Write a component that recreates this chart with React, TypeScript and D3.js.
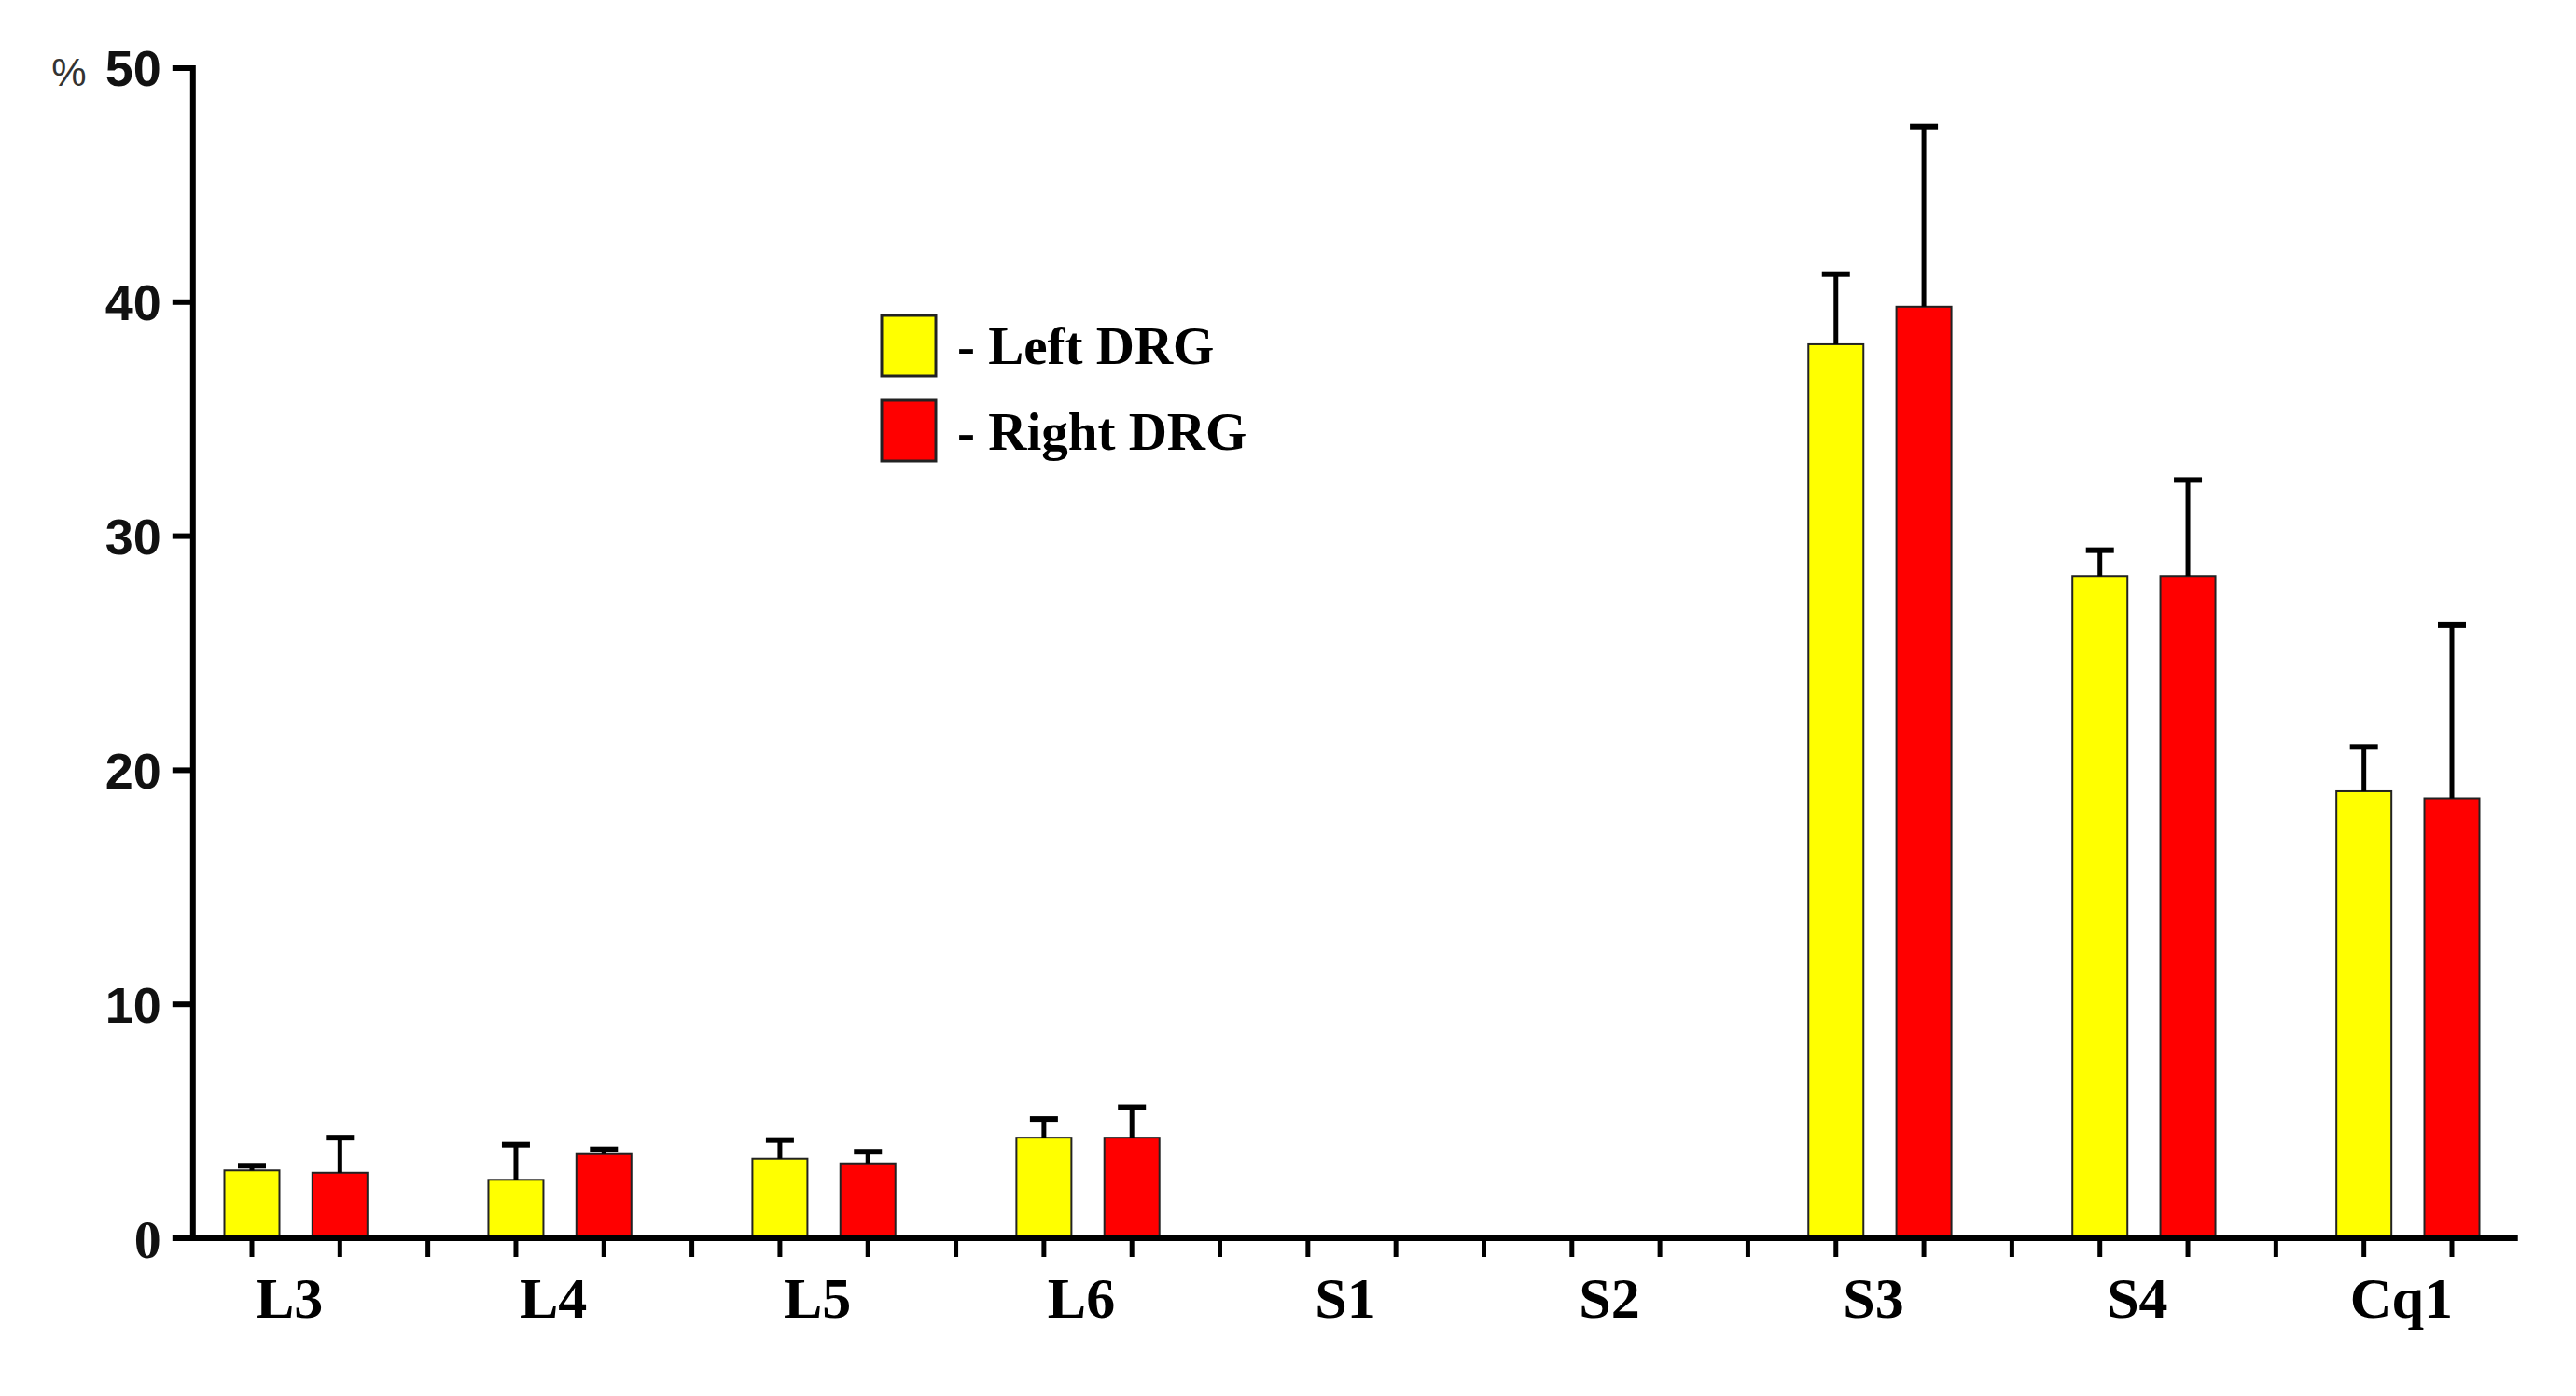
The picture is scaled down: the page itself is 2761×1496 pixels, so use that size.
import * as d3 from "d3";
import { useEffect, useRef } from "react";

const categories = ["L3", "L4", "L5", "L6", "S1", "S2", "S3", "S4", "Cq1"];
const leftMeans = [2.9, 2.5, 3.4, 4.3, 0, 0, 38.2, 28.3, 19.1];
const leftSem = [0.2, 1.5, 0.8, 0.8, 0, 0, 3.0, 1.1, 1.9];
const rightMeans = [2.8, 3.6, 3.2, 4.3, 0, 0, 39.8, 28.3, 18.8];
const rightSem = [1.5, 0.2, 0.5, 1.3, 0, 0, 7.7, 4.1, 7.4];
const yTicks = [0, 10, 20, 30, 40, 50];
const seriesNames = ["- Left DRG", "- Right DRG"];
const seriesColors = ["#ffff00", "#ff0000"];

const W = 2761;
const H = 1496;

const App = () => {
  const ref: any = useRef();

  useEffect(() => {
    document.body.style.margin = "0";
    const svg = d3.select(ref.current);
    svg.selectAll("*").remove();

    // slot = 3 * group + series (every third slot is the gap between groups)
    const x = d3.scaleLinear().domain([0, 25]).range([270, 2628]);
    const y = d3.scaleLinear().domain([0, 50]).range([1327, 73]);
    const barW = 59;

    const rows = categories.flatMap((c, i) => [
      { c, slot: 3 * i, v: leftMeans[i], e: leftSem[i], s: 0 },
      { c, slot: 3 * i + 1, v: rightMeans[i], e: rightSem[i], s: 1 },
    ]).filter((d) => d.v > 0);

    // bars
    svg.append("g")
      .selectAll("rect")
      .data(rows)
      .join("rect")
      .attr("x", (d) => x(d.slot) - barW / 2)
      .attr("y", (d) => y(d.v))
      .attr("width", barW)
      .attr("height", (d) => y(0) - y(d.v))
      .attr("fill", (d) => seriesColors[d.s])
      .attr("stroke", "#222")
      .attr("stroke-width", 2);

    // error bars (upper only)
    const err = svg.append("g").attr("stroke", "#000");
    err.selectAll("line.stem")
      .data(rows)
      .join("line")
      .attr("class", "stem")
      .attr("x1", (d) => x(d.slot))
      .attr("x2", (d) => x(d.slot))
      .attr("y1", (d) => y(d.v))
      .attr("y2", (d) => y(d.v + d.e))
      .attr("stroke-width", 5);
    err.selectAll("line.cap")
      .data(rows)
      .join("line")
      .attr("class", "cap")
      .attr("x1", (d) => x(d.slot) - 15)
      .attr("x2", (d) => x(d.slot) + 15)
      .attr("y1", (d) => y(d.v + d.e))
      .attr("y2", (d) => y(d.v + d.e))
      .attr("stroke-width", 6);

    // y axis
    const axisX = x(-0.67);
    svg.append("line")
      .attr("x1", axisX).attr("x2", axisX)
      .attr("y1", y(50) - 3).attr("y2", y(0))
      .attr("stroke", "#000").attr("stroke-width", 6);
    svg.append("g")
      .selectAll("line")
      .data(yTicks)
      .join("line")
      .attr("x1", axisX - 22).attr("x2", axisX)
      .attr("y1", (d) => y(d)).attr("y2", (d) => y(d))
      .attr("stroke", "#000").attr("stroke-width", 6);
    svg.append("g")
      .selectAll("text")
      .data(yTicks)
      .join("text")
      .attr("x", axisX - 34)
      .attr("y", (d) => y(d))
      .attr("dy", "0.36em")
      .attr("text-anchor", "end")
      .attr("font-family", (d) => (d === 0 ? "Liberation Serif" : "Liberation Sans"))
      .attr("font-weight", "bold")
      .attr("font-size", (d) => (d === 0 ? 58 : 54))
      .attr("fill", "#111")
      .text((d) => d);
    svg.append("text")
      .attr("x", 74).attr("y", 92)
      .attr("text-anchor", "middle")
      .attr("font-family", "Liberation Sans")
      .attr("font-size", 42)
      .attr("fill", "#333")
      .text("%");

    // x axis
    svg.append("line")
      .attr("x1", x(-0.9)).attr("x2", x(25.75))
      .attr("y1", y(0)).attr("y2", y(0))
      .attr("stroke", "#000").attr("stroke-width", 6);
    svg.append("g")
      .selectAll("line")
      .data(d3.range(0, 26))
      .join("line")
      .attr("x1", (d) => x(d)).attr("x2", (d) => x(d))
      .attr("y1", y(0)).attr("y2", y(0) + 20)
      .attr("stroke", "#000").attr("stroke-width", 5);
    svg.append("g")
      .selectAll("text")
      .data(categories)
      .join("text")
      .attr("x", (_, i) => x(3 * i + 0.5) - 7)
      .attr("y", 1412)
      .attr("text-anchor", "middle")
      .attr("font-family", "Liberation Serif")
      .attr("font-weight", "bold")
      .attr("font-size", 62)
      .attr("fill", "#000")
      .text((d) => d);

    // legend
    const legend = svg.append("g");
    seriesNames.forEach((name, i) => {
      legend.append("rect")
        .attr("x", 945).attr("y", 338 + i * 91)
        .attr("width", 58).attr("height", 65)
        .attr("fill", seriesColors[i])
        .attr("stroke", "#222").attr("stroke-width", 3);
      legend.append("text")
        .attr("x", 1026).attr("y", 390 + i * 92)
        .attr("font-family", "Liberation Serif")
        .attr("font-weight", "bold")
        .attr("font-size", 57)
        .attr("fill", "#000")
        .text(name);
    });
  }, []);

  return <svg ref={ref} width={W} height={H} style={{ display: "block", background: "#fff" }} />;
};

export default App;
